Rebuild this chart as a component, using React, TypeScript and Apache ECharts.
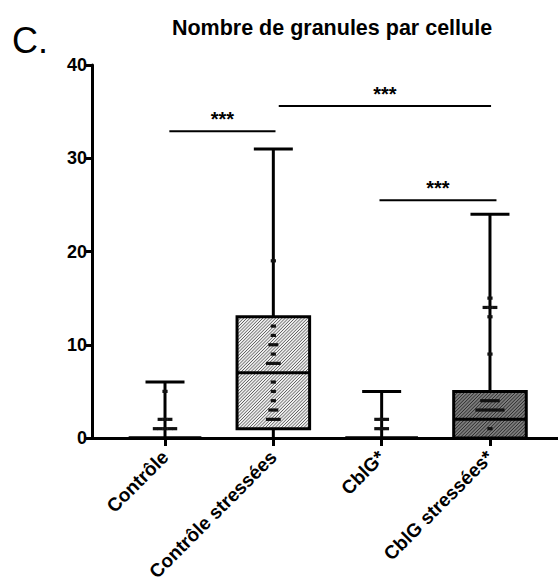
import React, { useEffect, useRef } from 'react';
import * as echarts from 'echarts';

// ---- data ----
const categories = ['Contrôle', 'Contrôle stressées', 'CblG*', 'CblG stressées*'];
const whiskerMin = [0, 0, 0, 0];
const quartile1 = [0, 1, 0, 0];
const medians = [0, 7, 0, 2];
const quartile3 = [0, 13, 0, 5];
const whiskerMax = [6, 31, 5, 24];

// individual points: [value, number of points at that value]
const dotsControle = [[5, 1], [2, 3], [1, 5]];
const dotsControleStress = [[19, 1], [12, 1], [11, 1], [10, 2], [9, 1], [8, 3], [6, 1], [5, 1], [4, 1], [3, 2], [2, 3]];
const dotsCblG = [[2, 3], [1, 3]];
const dotsCblGStress = [[15, 1], [14, 3], [13, 1], [9, 1], [4, 4], [3, 6], [1, 1]];
const dotsByCategory = [dotsControle, dotsControleStress, dotsCblG, dotsCblGStress];

// significance bars (x in category positions 1..4, level in y units)
const sigFrom = [1.04, 2.05, 2.98];
const sigTo = [2.02, 4.01, 4.06];
const sigLevel = [32.9, 35.6, 25.5];
const sigLabel = ['***', '***', '***'];

const yTickValues = [0, 10, 20, 30, 40];
const xTickValues = [1, 2, 3, 4];

// ---- styles ----
const FONT = '"Liberation Sans", Arial, Helvetica, sans-serif';
const BOX_WIDTH = 0.67; // fraction of a category step
const CAP_WIDTH = 0.36;
const LW = 3;
const boxStyles = [
  { bg: '#eeeeee', hatch: '#505050', step: 3.2 },
  { bg: '#eeeeee', hatch: '#505050', step: 3.2 },
  { bg: '#7c7c7c', hatch: '#222222', step: 3.4 },
  { bg: '#7c7c7c', hatch: '#222222', step: 3.4 },
];

function hatchLines(x0: number, y0: number, x1: number, y1: number, step: number, color: string) {
  const out: any[] = [];
  if (y1 - y0 < 1) return out;
  for (let c = x0 + y0 + step / 2; c < x1 + y1; c += step) {
    const xa = Math.max(x0, c - y1);
    const xb = Math.min(x1, c - y0);
    if (xb <= xa) continue;
    out.push({
      type: 'line',
      shape: { x1: xa, y1: c - xa, x2: xb, y2: c - xb },
      style: { stroke: color, lineWidth: 0.9 },
      silent: true,
    });
  }
  return out;
}

export default function App() {
  const ref = useRef<HTMLDivElement>(null);
  useEffect(() => {
    if (!ref.current) return;
    const chart = echarts.init(ref.current, undefined, { renderer: 'svg' });

    const boxData = categories.map((_, i) => [i + 1, whiskerMin[i], quartile1[i], medians[i], quartile3[i], whiskerMax[i]]);
    const dotData: number[][] = [];
    dotsByCategory.forEach((list, i) => list.forEach(([v, n]) => dotData.push([i + 1, v, n])));
    const sigData = sigFrom.map((f, i) => [f, sigLevel[i], sigTo[i], i]);

    const option: any = {
      animation: false,
      backgroundColor: '#ffffff',
      title: {
        text: 'Nombre de granules par cellule',
        left: 327,
        textAlign: 'center',
        top: 12,
        textStyle: { fontFamily: FONT, fontSize: 21.5, fontWeight: 'bold', color: '#000' },
      },
      graphic: [
        {
          type: 'text',
          left: 12,
          top: 22,
          style: { text: 'C.', fontFamily: FONT, fontSize: 36, fill: '#000' },
        },
      ],
      grid: { left: 92, right: 0, top: 65, bottom: 147 },
      xAxis: {
        type: 'value',
        min: 0.326,
        max: 4.628,
        axisLine: { show: true, onZero: false, lineStyle: { color: '#000', width: LW } },
        axisTick: { show: true, customValues: xTickValues, length: 8, lineStyle: { color: '#000', width: LW } },
        axisLabel: {
          customValues: xTickValues,
          rotate: 45,
          margin: 16,
          fontFamily: FONT,
          fontSize: 19,
          fontWeight: 'bold',
          color: '#000',
          formatter: (v: number) => categories[Math.round(v) - 1] ?? '',
        },
        splitLine: { show: false },
      },
      yAxis: {
        type: 'value',
        min: 0,
        max: 40,
        interval: 10,
        axisLine: { show: true, lineStyle: { color: '#000', width: LW } },
        axisTick: { show: true, length: 6, lineStyle: { color: '#000', width: LW } },
        axisLabel: {
          margin: 5,
          fontFamily: FONT,
          fontSize: 18,
          fontWeight: 'bold',
          color: '#000',
          formatter: (v: number) => (yTickValues.includes(v) ? String(v) : ''),
        },
        splitLine: { show: false },
      },
      series: [
        {
          type: 'custom',
          name: 'boxes',
          data: boxData,
          encode: { x: 0, y: [1, 2, 3, 4, 5] },
          z: 3,
          renderItem: (params: any, api: any) => {
            const idx = params.dataIndex;
            const x = api.value(0);
            const unit = api.size([1, 0])[0];
            const hb = (unit * BOX_WIDTH) / 2;
            const hc = (unit * CAP_WIDTH) / 2;
            const pMin = api.coord([x, api.value(1)]);
            const pQ1 = api.coord([x, api.value(2)]);
            const pMed = api.coord([x, api.value(3)]);
            const pQ3 = api.coord([x, api.value(4)]);
            const pMax = api.coord([x, api.value(5)]);
            const cx = pMin[0];
            const st = boxStyles[idx];
            const children: any[] = [];
            const line = (x1: number, y1: number, x2: number, y2: number) => ({
              type: 'line',
              shape: { x1, y1, x2, y2 },
              style: { stroke: '#000', lineWidth: LW },
            });
            children.push(line(cx, pMax[1], cx, pQ3[1]));
            children.push(line(cx, pQ1[1], cx, pMin[1]));
            children.push(line(cx - hc, pMax[1], cx + hc, pMax[1]));
            const h = pQ1[1] - pQ3[1];
            if (h >= 1) {
              children.push({
                type: 'rect',
                shape: { x: cx - hb, y: pQ3[1], width: 2 * hb, height: h },
                style: { fill: st.bg, stroke: 'none' },
              });
              children.push(...hatchLines(cx - hb, pQ3[1], cx + hb, pQ1[1], st.step, st.hatch));
              children.push({
                type: 'rect',
                shape: { x: cx - hb, y: pQ3[1], width: 2 * hb, height: h },
                style: { fill: 'none', stroke: '#000', lineWidth: LW },
              });
            } else {
              children.push(line(cx - hb, pQ3[1], cx + hb, pQ3[1]));
            }
            children.push(line(cx - hb, pMed[1], cx + hb, pMed[1]));
            return { type: 'group', children };
          },
        },
        {
          type: 'custom',
          name: 'points',
          data: dotData,
          encode: { x: 0, y: 1 },
          z: 4,
          renderItem: (params: any, api: any) => {
            const p = api.coord([api.value(0), api.value(1)]);
            const n = api.value(2);
            const children: any[] = [];
            const sp = 4.8;
            for (let k = 0; k < n; k++) {
              const dx = (k - (n - 1) / 2) * sp;
              children.push({
                type: 'rect',
                shape: { x: p[0] + dx - 2.6, y: p[1] - 1.6, width: 5.2, height: 3.2 },
                style: { fill: '#111' },
              });
            }
            return { type: 'group', children };
          },
        },
        {
          type: 'custom',
          name: 'significance',
          data: sigData,
          encode: { x: [0, 2], y: 1 },
          z: 5,
          renderItem: (params: any, api: any) => {
            const a = api.coord([api.value(0), api.value(1)]);
            const b = api.coord([api.value(2), api.value(1)]);
            const label = sigLabel[api.value(3)];
            return {
              type: 'group',
              children: [
                {
                  type: 'line',
                  shape: { x1: a[0], y1: a[1], x2: b[0], y2: b[1] },
                  style: { stroke: '#000', lineWidth: 2 },
                },
                {
                  type: 'text',
                  x: (a[0] + b[0]) / 2,
                  y: a[1] - 2,
                  style: {
                    text: label,
                    fontFamily: FONT,
                    fontSize: 20,
                    fontWeight: 'bold',
                    fill: '#000',
                    align: 'center',
                    verticalAlign: 'bottom',
                  },
                },
              ],
            };
          },
        },
      ],
    };

    chart.setOption(option);
    return () => chart.dispose();
  }, []);

  return (
    <div
      ref={ref}
      style={{ position: 'fixed', left: 0, top: 0, width: 558, height: 585, background: '#fff' }}
    />
  );
}
